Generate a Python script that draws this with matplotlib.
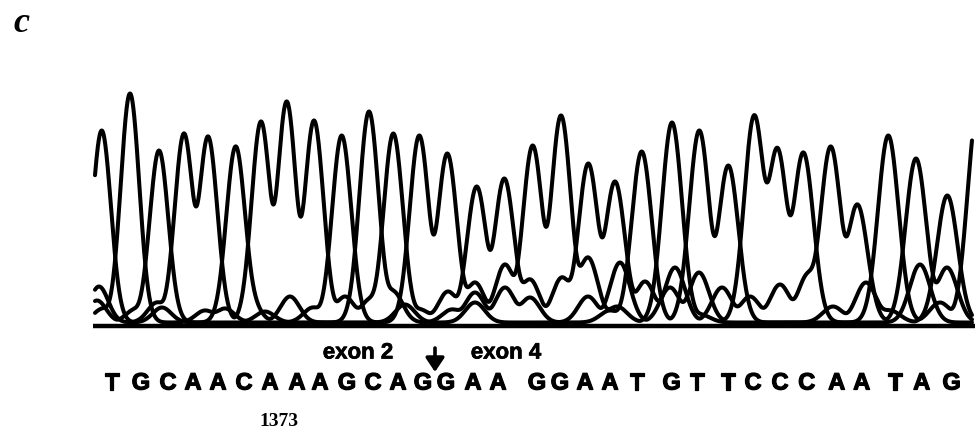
import numpy as np
import matplotlib
matplotlib.use("Agg")
import matplotlib.pyplot as plt
import matplotlib.patheffects as pe

# ---------------- data ----------------
# base calls under the trace and their horizontal positions
bases = list("TGCAACAAAGCAGGAAGGAATGTTCCCAATAG")
base_x = [111.7, 141, 168, 193, 218, 244, 270, 297, 320, 347, 373, 398, 423, 446,
          473, 498, 537, 560, 585, 610, 636.7, 671.7, 696.7, 728, 753, 780, 806.7,
          836.7, 861.7, 895, 921.7, 951.7]

# primary peaks (scan position, signal height), one per base call
peak_x = [101.7, 130, 159, 184, 208, 235.7, 261, 286.7, 314, 341.7, 369, 393.3,
          419.3, 447.3, 476.7, 504.3, 532.7, 561, 588.3, 615, 641.7, 672, 699.3,
          728.3, 754.3, 777.3, 803.3, 830.7, 857.3, 888.3, 916, 947.3]
peak_h = [192, 229, 172, 189, 186, 176, 201, 221, 202, 187, 211, 189, 187, 169,
          136, 144, 177, 207, 159, 141, 171, 200, 192, 157, 207, 174, 170, 176,
          118, 187, 164, 127]
# peak just past the right edge
next_base, next_x, next_h = "T", 978, 215

# secondary (background) peaks per channel
minor_A_x = [99, 157, 345, 370, 420, 448, 530, 562, 645, 675, 722, 750, 780, 808, 947]
minor_A_h = [36, 20, 26, 23, 13, 31, 43, 45, 41, 55, 35, 26, 38, 48, 55]
minor_C_x = [97, 135, 250, 290, 393, 452, 475, 505, 530, 588, 620, 670, 699, 920]
minor_C_h = [22, 13, 22, 26, 31, 13, 30, 35, 25, 26, 60, 35, 50, 58]
minor_G_x = [103, 205, 225, 265, 313, 475, 505, 588, 617, 700, 833, 866, 890]
minor_G_h = [14, 12, 14, 11, 15, 40, 58, 65, 16, 8, 16, 40, 12]
minor_T_x = [162, 405, 475, 610, 940]
minor_T_h = [15, 18, 20, 12, 20]

exon_labels = ["exon 2", "exon 4"]
position_label = "1373"
panel_label = "c"

# ---------------- figure ----------------
fig = plt.figure(figsize=(9.79, 4.30), dpi=100)
ax = fig.add_axes([0, 0, 1, 1])
ax.set_xlim(0, 979)
ax.set_ylim(-106, 324)
ax.axis("off")

xs = np.linspace(95, 972, 4000)

def width(x):
    return np.interp(x, [100, 970], [9.2, 10.4])

minor = {"A": (minor_A_x, minor_A_h), "C": (minor_C_x, minor_C_h),
         "G": (minor_G_x, minor_G_h), "T": (minor_T_x, minor_T_h)}

for ch in "ACGT":
    pk_x = [x for x, b in zip(peak_x, bases) if b == ch] + list(minor[ch][0])
    pk_h = [h for h, b in zip(peak_h, bases) if b == ch] + list(minor[ch][1])
    if next_base == ch:
        pk_x.append(next_x)
        pk_h.append(next_h)
    acc = np.zeros_like(xs)
    for px, ph in zip(pk_x, pk_h):
        s = width(px)
        acc += (ph * np.exp(-0.5 * ((xs - px) / s) ** 2)) ** 2
    y = 1.5 + np.sqrt(acc)
    ax.plot(xs, y, color="black", lw=2.9, solid_joinstyle="round",
            solid_capstyle="round")

# baseline
ax.plot([93, 975], [-1.5, -1.5], color="black", lw=3.2, solid_capstyle="butt")

# base letters
for b, bx in zip(bases, base_x):
    ax.text(bx, -59, b, ha="center", va="center", fontsize=17,
            family="Liberation Sans", weight="bold",
            path_effects=[pe.withStroke(linewidth=0.9, foreground="black")])

# exon labels and junction arrow
ax.text(358, -29, exon_labels[0], ha="center", va="center", fontsize=16,
        family="Liberation Sans", weight="bold",
        path_effects=[pe.withStroke(linewidth=0.5, foreground="black")])
ax.text(506, -29, exon_labels[1], ha="center", va="center", fontsize=16,
        family="Liberation Sans", weight="bold",
        path_effects=[pe.withStroke(linewidth=0.5, foreground="black")])
ax.annotate("", xy=(435, -48), xytext=(435, -24),
            arrowprops=dict(arrowstyle="-|>,head_width=0.4,head_length=0.6",
                            lw=2.6, color="black", mutation_scale=14,
                            shrinkA=0, shrinkB=0))

ax.text(279, -98, position_label, ha="center", va="center", fontsize=14,
        family="Liberation Serif", weight="bold")

ax.text(21, 300, panel_label, ha="center", va="center", fontsize=26,
        family="Liberation Serif", weight="bold", style="italic")

fig.savefig("out.png", dpi=100)
